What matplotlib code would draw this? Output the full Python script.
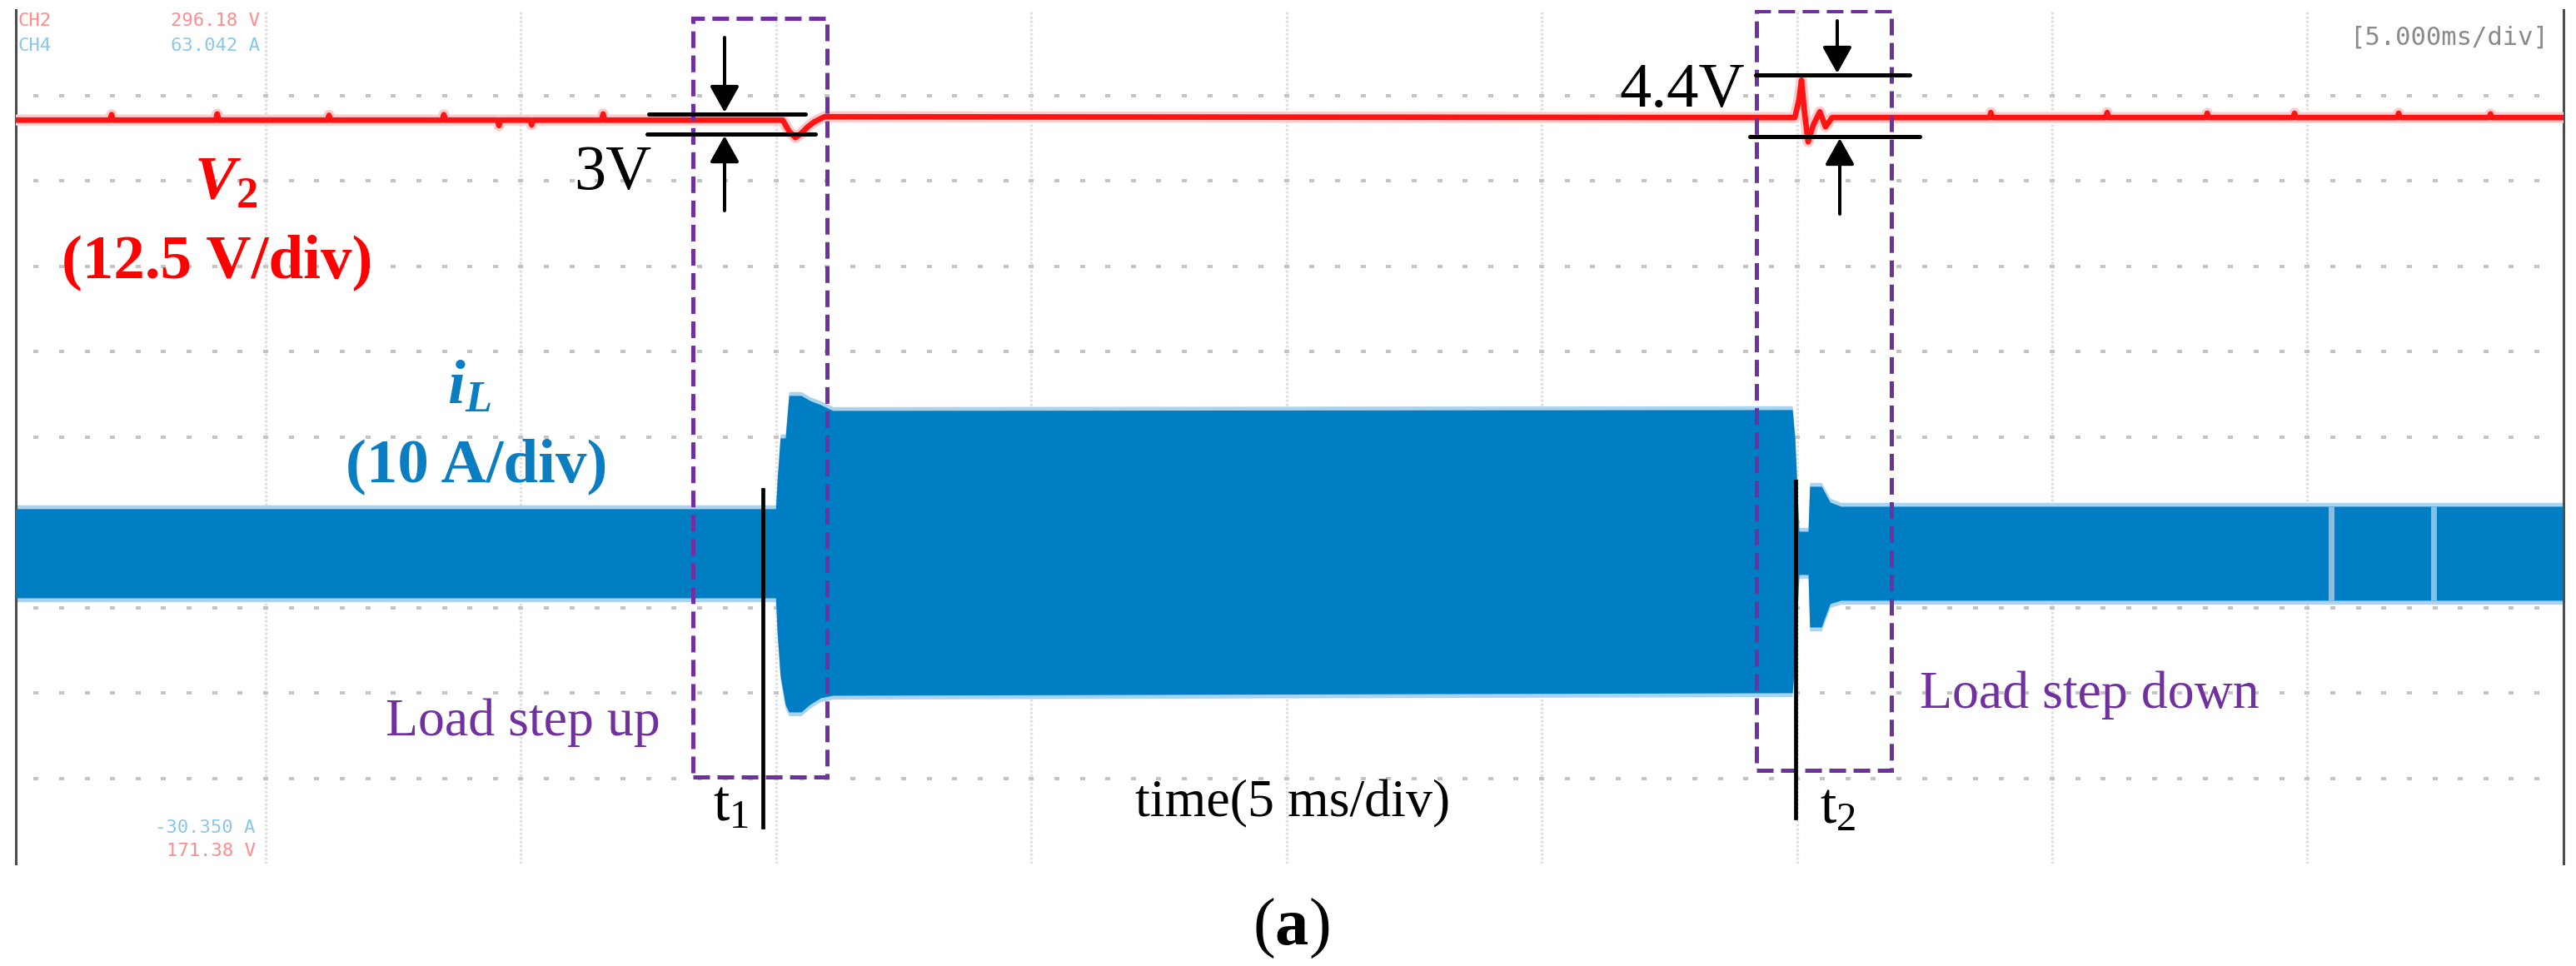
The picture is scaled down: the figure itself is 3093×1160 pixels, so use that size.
"""
Oscilloscope capture: V2 and iL during a load step up / step down.
"""
import matplotlib
matplotlib.use('Agg')  # headless
import matplotlib.pyplot as plt
from matplotlib.patches import Rectangle
import numpy as np

plt.rcParams['lines.scale_dashes'] = False
plt.rcParams['mathtext.fontset'] = 'custom'
plt.rcParams['mathtext.rm'] = 'Liberation Serif'
plt.rcParams['mathtext.bf'] = 'Liberation Serif:bold'
plt.rcParams['mathtext.it'] = 'Liberation Serif:italic'
plt.rcParams['mathtext.bfit'] = 'Liberation Serif:italic:bold'

SERIF = 'Liberation Serif'
MONO = 'DejaVu Sans Mono'

# ---------------------------------------------------------------------------
# Scope settings (10 x 10 divisions, 5 ms/div)
# ---------------------------------------------------------------------------
V_PER_DIV = 12.5
A_PER_DIV = 10.0
V2_POS = 8.71     # screen position of the V2 trace (div)
IL_POS = 3.63     # screen position of iL = 0 (div)

# ---------------------------------------------------------------------------
# Data read off the capture
# ---------------------------------------------------------------------------
# V2 trace: time (ms) and deviation from the pre-step level (V)
v2_t = [0.0, 1.95, 1.98, 2.01, 4.02, 4.05, 4.08, 6.21, 6.24, 6.27,
        8.46, 8.49, 8.52, 9.54, 9.57, 9.60, 10.18, 10.21, 10.24,
        11.58, 11.61, 11.64,
        15.13, 15.26, 15.38, 15.49, 15.62, 15.75, 15.95,
        34.96, 35.04, 35.09, 35.14, 35.22, 35.32, 35.45, 35.56, 35.69,
        38.77, 38.80, 38.83, 41.05, 41.08, 41.11, 43.01, 43.04, 43.07,
        44.72, 44.75, 44.78, 46.76, 46.79, 46.82, 48.56, 48.59, 48.62, 50.0]
v2_dv = [0.0, 0.0, 0.8, 0.0, 0.0, 0.9, 0.0, 0.0, 0.7, 0.0,
         0.0, 0.8, 0.0, 0.0, -0.8, 0.0, 0.0, -0.7, 0.0,
         0.0, 0.9, 0.0,
         0.0, -1.71, -2.56, -1.95, -0.98, -0.24, 0.49,
         0.37, 2.93, 5.85, 1.71, -3.17, -0.73, 1.22, -0.98, 0.37,
         0.37, 1.1, 0.37, 0.37, 1.1, 0.37, 0.37, 1.0, 0.37,
         0.37, 1.0, 0.37, 0.37, 1.0, 0.37, 0.37, 0.9, 0.37, 0.37]

# iL ripple envelope: time (ms), upper / lower peak (A)
il_t = [0.0, 14.99, 15.02, 15.08, 15.18, 15.25, 15.49, 15.66, 15.87, 16.11,
        34.91, 34.96, 35.04, 35.22, 35.25, 35.48, 35.65, 35.86, 50.0]
il_hi = [5.27, 5.27, 8.49, 13.56, 13.56, 18.54, 18.54, 17.95, 17.46, 16.78,
         16.88, 13.56, 2.63, 2.63, 7.90, 7.90, 6.05, 5.56, 5.56]
il_lo = [-5.17, -5.17, -9.07, -14.24, -17.66, -18.54, -18.54, -17.66, -16.88, -16.59,
         -16.29, -12.58, -2.44, -2.44, -8.59, -8.59, -5.85, -5.46, -5.46]

# dropouts in the iL record (ms)
il_gaps = [45.47, 47.48]

# event times (ms)
t_step_up = 14.74
t_step_down = 34.98

# ---------------------------------------------------------------------------
# Figure
# ---------------------------------------------------------------------------
W, H = 3093, 1160
fig = plt.figure(figsize=(W / 100, H / 100), dpi=100)
fig.patch.set_facecolor('white')
ax = fig.add_axes([19 / W, 123 / H, 3059 / W, 1025 / H])
ax.set_xlim(0.104, 50.02)
ax.set_ylim(0, 10)
ax.set_xticks([])
ax.set_yticks([])
for s in ('top', 'bottom'):
    ax.spines[s].set_visible(False)
for s in ('left', 'right'):
    ax.spines[s].set_color('#4d4d4d')
    ax.spines[s].set_linewidth(2.2)

# graticule
for gx in np.arange(5, 50, 5):
    ax.axvline(gx, color='#e0e0e0', lw=2.4, ls=(0, (2.0, 1.6)), zorder=0)
dots_x = np.arange(0.5, 50, 0.5)
for gy in range(1, 10):
    ax.plot(dots_x, np.full(dots_x.shape, gy), ls='none', marker='_',
            ms=4.3, mew=2.9, color='#c4c4c4', zorder=0)

# iL
t_il = np.array(il_t)
y_hi = IL_POS + np.array(il_hi) / A_PER_DIV
y_lo = IL_POS + np.array(il_lo) / A_PER_DIV
ax.fill_between(t_il, y_hi + 0.045, y_lo - 0.045, color='#a9d3ee', lw=0, zorder=2)
ax.fill_between(t_il, y_hi, y_lo, color='#007ec3', lw=0, zorder=3)
ax.vlines(il_gaps, y_lo[-1], y_hi[-1], color='#86c0e4', lw=5, zorder=4)

# V2
y_v2 = V2_POS + np.array(v2_dv) / V_PER_DIV
ax.plot(v2_t, y_v2, color='#ffcaca', lw=9.5, solid_joinstyle='round', zorder=5)
ax.plot(v2_t, y_v2, color='#ff1414', lw=4.8, solid_joinstyle='round', zorder=6)

# top / bottom readouts
ax.text(0.14, 9.87, 'CH2', family=MONO, fontsize=16, color='#ff8c8c', va='center', ha='left')
ax.text(0.14, 9.58, 'CH4', family=MONO, fontsize=16, color='#8cc6e8', va='center', ha='left')
ax.text(4.89, 9.87, '296.18 V', family=MONO, fontsize=16, color='#ff8c8c', va='center', ha='right')
ax.text(4.89, 9.58, '63.042 A', family=MONO, fontsize=16, color='#8cc6e8', va='center', ha='right')
ax.text(4.80, 0.42, '-30.350 A', family=MONO, fontsize=16, color='#8cc6e8', va='center', ha='right')
ax.text(4.80, 0.15, '171.38 V', family=MONO, fontsize=16, color='#ff8c8c', va='center', ha='right')
ax.text(49.73, 9.68, '[5.000ms/div]', family=MONO, fontsize=22, color='#8a8a8a', va='center', ha='right')

# channel labels
red, blue = '#ff0000', '#0b7ec2'
ax.text(3.60, 7.78, r'$\mathbfit{V}_{\mathbf{2}}$', family=SERIF, fontsize=54,
        color=red, va='baseline', ha='left')
ax.text(4.04, 6.87, '(12.5 V/div)', family=SERIF, fontsize=54, fontweight='bold',
        color=red, va='baseline', ha='center')
ax.text(8.56, 5.385, r'$\mathbfit{i}_{\mathbfit{L}}$', family=SERIF, fontsize=54,
        color=blue, va='baseline', ha='left')
ax.text(9.13, 4.48, '(10 A/div)', family=SERIF, fontsize=54, fontweight='bold',
        color=blue, va='baseline', ha='center')

# dashed boxes around the transients
purple = '#7030a0'
for (x0, x1, y0, y1) in [(13.37, 16.00, 1.015, 9.90), (34.21, 36.85, 1.09, 9.99)]:
    ax.add_patch(Rectangle((x0, y0), x1 - x0, y1 - y0, fill=False, edgecolor=purple,
                           lw=3.6, ls=(0, (14.4, 6.5)), zorder=7))

ax.text(7.35, 1.50, 'Load step up', family=SERIF, fontsize=46, color=purple, va='baseline')
ax.text(37.41, 1.82, 'Load step down', family=SERIF, fontsize=46, color=purple, va='baseline')

# event markers
ax.plot([t_step_up, t_step_up], [0.43, 4.38], color='black', lw=3.4, zorder=8)
ax.plot([t_step_down, t_step_down], [0.54, 4.48], color='black', lw=3.4, zorder=8)
ax.text(13.76, 0.507, r'$\mathrm{t}_{1}$', family=SERIF, fontsize=50, va='baseline')
ax.text(35.45, 0.478, r'$\mathrm{t}_{2}$', family=SERIF, fontsize=50, va='baseline')


# voltage deviation dimension marks
def dim_mark(x_up, x_lo, y_up, y_lo, x_arrow, top, bottom):
    ax.plot(x_up, [y_up, y_up], color='black', lw=3.6, solid_capstyle='round', zorder=9)
    ax.plot(x_lo, [y_lo, y_lo], color='black', lw=3.6, solid_capstyle='round', zorder=9)
    style = '-|>,head_length=0.97,head_width=0.54'
    ax.annotate('', xy=(x_arrow[0], y_up + 0.02), xytext=(x_arrow[0], top),
                arrowprops=dict(arrowstyle=style, color='black', lw=2.9,
                                shrinkA=0, shrinkB=0, mutation_scale=20), zorder=9)
    ax.annotate('', xy=(x_arrow[1], y_lo - 0.02), xytext=(x_arrow[1], bottom),
                arrowprops=dict(arrowstyle=style, color='black', lw=2.9,
                                shrinkA=0, shrinkB=0, mutation_scale=20), zorder=9)


dim_mark((12.51, 15.57), (12.47, 15.77), 8.78, 8.546, (13.99, 13.99), 9.678, 7.649)
dim_mark((34.19, 37.21), (34.08, 37.41), 9.239, 8.517, (35.79, 35.84), 9.873, 7.61)
ax.text(11.04, 7.90, '3V', family=SERIF, fontsize=55, va='baseline', ha='left')
ax.text(33.98, 8.87, '4.4V', family=SERIF, fontsize=55, va='baseline', ha='right')

# axis captions
ax.text(25.12, 0.556, 'time(5 ms/div)', family=SERIF, fontsize=46, va='baseline', ha='center')
ax.text(25.09, -0.94, r'($\mathbf{a}$)', family=SERIF, fontsize=58, va='baseline', ha='center')

fig.savefig('out.png', dpi=100, facecolor='white')
plt.close(fig)
